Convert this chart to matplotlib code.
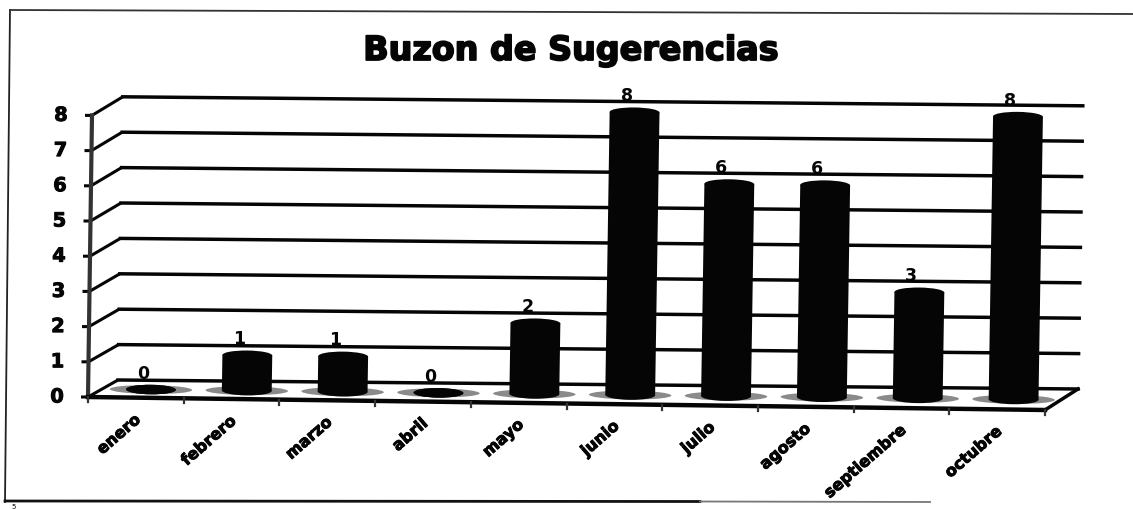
import matplotlib
matplotlib.use('Agg')
import matplotlib.pyplot as plt
import matplotlib.patheffects as pe
import numpy as np
from matplotlib.patches import Ellipse
from matplotlib.transforms import Affine2D

months = ['enero', 'febrero', 'marzo', 'abril', 'mayo', 'junio', 'julio',
          'agosto', 'septiembre', 'octubre']
counts = [0, 1, 1, 0, 2, 8, 6, 6, 3, 8]
yticks = [0, 1, 2, 3, 4, 5, 6, 7, 8]
title = 'Buzon de Sugerencias'

fig = plt.figure(figsize=(11.33, 5.10), dpi=100)
ax = fig.add_axes([0, 0, 1, 1])
ax.axis('off')

# fake 3d: category/value space to picture pixels, one plane per depth
front = Affine2D.from_values(95.7, 1.3, 0.5, -35.2, 88, 398) + ax.transData
back = Affine2D.from_values(96, 0.9, 0.6, -35.4, 118, 381) + ax.transData
mid = Affine2D.from_values(95.85, 1.1, 0.55, -35.35, 103, 390) + ax.transData

ink = '#050505'
n = len(months)
heavy = [pe.withStroke(linewidth=0.7, foreground=ink)]

# outer frame of the scan
ax.plot([10, 5], [11, 503], color='#222222', lw=1.3)
ax.plot([10, 1133], [11, 15], color='#333333', lw=1.3)
ax.plot([5, 700], [502, 502.5], color='#111111', lw=2.0)
ax.plot([700, 930], [502.5, 503], color='#777777', lw=1.3)

# back wall and left side
to_px = ax.transData.inverted()
for v in yticks:
    p0 = to_px.transform(front.transform((0, v)))
    p1 = to_px.transform(back.transform((0, v)))
    ax.plot([p0[0] - 7, p0[0], p1[0]], [p0[1], p0[1], p1[1]], color=ink, lw=2.2, zorder=2, solid_capstyle='butt')
    ax.plot([0, n], [v, v], color=ink, lw=2.5, transform=back, zorder=2)
    ax.annotate(str(v), (0, v), xycoords=front, xytext=(-31, 0), textcoords='offset pixels',
                ha='center', va='center', fontsize=14, fontweight='bold', color=ink,
                family='DejaVu Sans', path_effects=heavy)

ax.plot([0, 0], [0, 8], color='#333333', lw=3, transform=front, zorder=3)
ax.plot([0, n], [0, 0], color=ink, lw=3.2, transform=front, zorder=3)
p0 = to_px.transform(front.transform((n, 0)))
p1 = to_px.transform(back.transform((n, 0)))
ax.plot([p0[0], p1[0]], [p0[1], p1[1]], color=ink, lw=2.5, zorder=3)

# ticks under the floor
for i in range(n + 1):
    p = to_px.transform(front.transform((i, 0)))
    ax.plot([p[0], p[0]], [p[1], p[1] + 5], color='#333333', lw=1.6, zorder=3)

x = np.arange(n) + 0.5

# floor shadows
for xi in x:
    ax.add_patch(Ellipse((xi, 0), 0.86, 0.25, transform=mid, facecolor='#8a8a8a', edgecolor='none', zorder=4))

# cylinders
ax.bar(x, counts, width=0.52, color=ink, transform=mid, zorder=5)
for xi, v in zip(x, counts):
    ax.add_patch(Ellipse((xi, 0), 0.52, 0.27, transform=mid, facecolor=ink, edgecolor='none', zorder=5))
    ax.add_patch(Ellipse((xi, v), 0.52, 0.27, transform=mid, facecolor=ink, edgecolor='none', zorder=5))
    ax.annotate(str(v), (xi, v), xycoords=mid, xytext=(-8, 17), textcoords='offset pixels',
                ha='center', va='center', fontsize=12.5, fontweight='bold', color=ink,
                family='DejaVu Sans', zorder=6)

# month labels
for xi, m in zip(x, months):
    ax.annotate(m, (xi, 0), xycoords=front, xytext=(-2, -14), textcoords='offset pixels',
                rotation=41, rotation_mode='anchor', ha='right', va='top',
                fontsize=11.5, fontweight='bold', color=ink, family='DejaVu Sans', path_effects=heavy)

ax.text(571, 61, title, ha='center', va='baseline', fontsize=24, fontweight='bold',
        color=ink, family='DejaVu Sans', path_effects=[pe.withStroke(linewidth=1.3, foreground=ink)])

# page number at bottom edge
ax.text(14, 509.5, '5', ha='center', va='baseline', fontsize=5, color=ink, family='DejaVu Sans')

ax.set_xlim(0, 1133)
ax.set_ylim(510, 0)

fig.savefig('out.png', dpi=100)
